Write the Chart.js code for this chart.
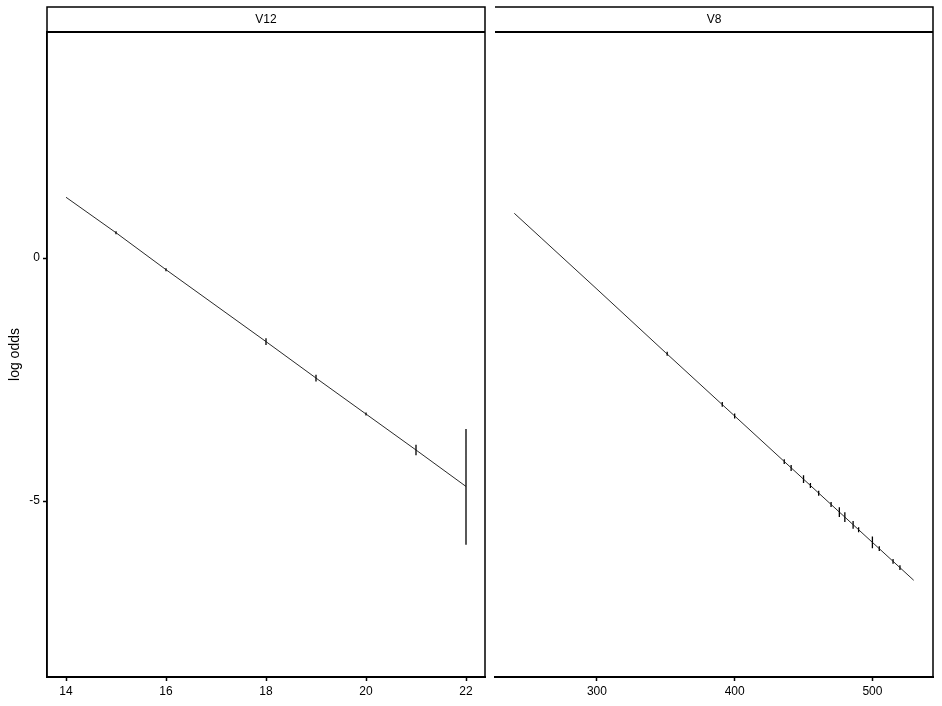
<!DOCTYPE html>
<html>
<head>
<meta charset="utf-8">
<script src="https://cdn.jsdelivr.net/npm/chart.js@4"></script>
<style>
  html, body { margin: 0; padding: 0; background: #fff; }
  #wrap { position: relative; width: 942px; height: 706px; }
  #wrap canvas { position: absolute; left: 0; top: 0; }
</style>
</head>
<body>
<div id="wrap">
  <canvas id="c12" width="942" height="706"></canvas>
  <canvas id="c8" width="942" height="706"></canvas>
</div>
<script>
// shared y range (log odds)
const yMin = -8.62
const yMax = 4.65
const yTicks = [-5, 0]

// V12 panel
const v12Ticks = [14, 16, 18, 20, 22]
const v12X = [14, 15, 16, 17, 18, 19, 20, 21, 22]
const v12Fit = [1.25, 0.52, -0.24, -0.98, -1.72, -2.47, -3.21, -3.95, -4.70]
const v12BarX = [15, 16, 18, 19, 20, 21, 22]
const v12BarLo = [0.49, -0.27, -1.79, -2.54, -3.24, -4.06, -5.90]
const v12BarHi = [0.55, -0.21, -1.65, -2.40, -3.18, -3.84, -3.52]

// V8 panel
const v8Ticks = [300, 400, 500]
const v8X = [240, 260, 300, 350, 400, 450, 500, 530]
const v8Fit = [0.92, 0.40, -0.64, -1.95, -3.25, -4.55, -5.85, -6.63]
const v8BarX = [351, 391, 400, 436, 441, 450, 455, 461, 470, 476, 480, 486, 490, 500, 505, 515, 520]
const v8BarLo = [-2.01, -3.06, -3.30, -4.24, -4.38, -4.63, -4.73, -4.89, -5.12, -5.33, -5.43, -5.57, -5.64, -5.97, -6.03, -6.29, -6.42]
const v8BarHi = [-1.93, -2.96, -3.20, -4.14, -4.26, -4.47, -4.63, -4.79, -5.02, -5.13, -5.23, -5.41, -5.54, -5.73, -5.93, -6.19, -6.32]

const font = { family: 'Liberation Sans, Arial, sans-serif', size: 12 }

function toPoints(xs, ys) {
  return xs.map((x, i) => ({ x: x, y: ys[i] }))
}

function barPoints(xs, lo, hi) {
  const pts = []
  xs.forEach((x, i) => {
    pts.push({ x: x, y: lo[i] })
    pts.push({ x: x, y: hi[i] })
    pts.push({ x: x, y: null })
  })
  return pts
}

// facet frame + strip drawn round the chart area
const facetFrame = {
  id: 'facetFrame',
  afterDraw(chart, args, opts) {
    const ctx = chart.ctx
    const a = chart.chartArea
    const stripTop = 7
    ctx.save()
    ctx.strokeStyle = '#000'
    ctx.lineWidth = 1.5
    ctx.beginPath()
    if (opts.leftBorder) {
      ctx.moveTo(a.left, a.bottom)
      ctx.lineTo(a.left, stripTop)
    } else {
      ctx.moveTo(a.left, stripTop)
    }
    ctx.lineTo(a.right, stripTop)
    ctx.lineTo(a.right, a.bottom)
    ctx.stroke()
    ctx.lineWidth = 2
    ctx.beginPath()
    ctx.moveTo(a.left, a.top)
    ctx.lineTo(a.right, a.top)
    ctx.stroke()
    ctx.fillStyle = '#000'
    ctx.font = '12px ' + font.family
    ctx.textAlign = 'center'
    ctx.textBaseline = 'middle'
    ctx.fillText(opts.label, (a.left + a.right) / 2, (stripTop + a.top) / 2)
    ctx.restore()
  }
}

function makeChart(id, label, xs, fit, bx, blo, bhi, xMin, xMax, xTicks, showY, padLeft, padRight) {
  return new Chart(document.getElementById(id), {
    type: 'line',
    data: {
      datasets: [
        {
          data: toPoints(xs, fit),
          borderColor: '#111',
          borderWidth: 0.9,
          pointRadius: 0,
          tension: 0,
        },
        {
          data: barPoints(bx, blo, bhi),
          borderColor: '#000',
          borderWidth: 1.3,
          pointRadius: 0,
          spanGaps: false,
        },
      ],
    },
    options: {
      responsive: false,
      animation: false,
      events: [],
      layout: { padding: { top: 32, left: padLeft, right: padRight, bottom: 0 } },
      plugins: {
        legend: { display: false },
        tooltip: { enabled: false },
        facetFrame: { label: label, leftBorder: showY },
      },
      scales: {
        x: {
          type: 'linear',
          min: xMin,
          max: xMax,
          afterBuildTicks: (s) => { s.ticks = xTicks.map((v) => ({ value: v })) },
          afterFit: (s) => { s.height = 29 },
          grid: { drawOnChartArea: false, drawTicks: true, tickLength: 4, tickColor: '#000', tickWidth: 1.5 },
          border: { display: true, color: '#000', width: 2 },
          ticks: { color: '#000', font: font, padding: 3, maxRotation: 0 },
        },
        y: {
          type: 'linear',
          display: showY,
          min: yMin,
          max: yMax,
          afterBuildTicks: (s) => { s.ticks = yTicks.map((v) => ({ value: v })) },
          afterFit: (s) => { s.width = showY ? 47 : 0 },
          grid: { drawOnChartArea: false, drawTicks: true, tickLength: 4, tickColor: '#000', tickWidth: 1.5 },
          border: { display: true, color: '#000', width: 1.5 },
          ticks: { color: '#000', font: font, padding: 3 },
          title: { display: true, text: 'log odds', color: '#000', font: { family: font.family, size: 14 }, padding: { top: 7, bottom: 0 } },
        },
      },
    },
    plugins: [facetFrame],
  })
}

makeChart('c12', 'V12', v12X, v12Fit, v12BarX, v12BarLo, v12BarHi, 13.62, 22.38, v12Ticks, true, 0, 457)
makeChart('c8', 'V8', v8X, v8Fit, v8BarX, v8BarLo, v8BarHi, 226, 544, v8Ticks, false, 495, 9)
</script>
</body>
</html>
